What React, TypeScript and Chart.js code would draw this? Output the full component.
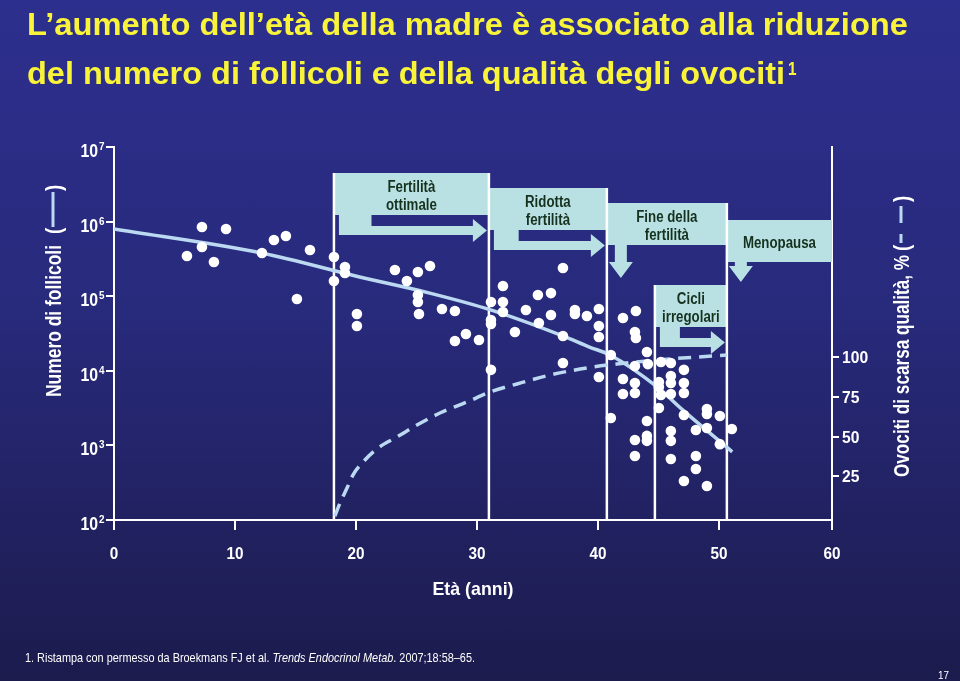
import React, { useEffect, useRef } from 'react';
import { Chart, registerables } from 'chart.js';

Chart.register(...registerables);

// ---------- data ----------
const TITLE_LINE_1 = 'L\u2019aumento dell\u2019et\u00e0 della madre \u00e8 associato alla riduzione';
const TITLE_LINE_2 = 'del numero di follicoli e della qualit\u00e0 degli ovociti';
const TITLE_NOTE = '1';
const FOOTNOTE_A = '1. Ristampa con permesso da Broekmans FJ et al. ';
const FOOTNOTE_B = 'Trends Endocrinol Metab';
const FOOTNOTE_C = '. 2007;18:58\u201365.';
const PAGE_NUMBER = '17';
const X_TITLE = 'Et\u00e0 (anni)';
const Y_TITLE = 'Numero di follicoli';
const Y2_TITLE = 'Ovociti di scarsa qualit\u00e0, %';

// scatter: age (years) and follicle count
const POINT_AGES = [
  6.03, 7.27, 7.27, 8.26, 9.26, 12.23, 13.22, 14.21, 16.2, 15.12,
  18.18, 18.18, 19.09, 19.09, 20.08, 20.08, 23.22, 24.21, 25.12, 26.12,
  25.12, 25.12, 25.21, 27.11, 28.18, 29.09, 28.18, 30.17, 31.16, 31.16,
  31.16, 31.16, 32.15, 32.15, 32.15, 33.14, 34.05, 35.04, 36.12, 36.12,
  35.12, 37.11, 37.11, 37.11, 38.1, 38.1, 39.09, 40.08, 40.08, 40.08,
  40.08, 41.07, 42.07, 43.14, 43.06, 43.14, 44.05, 44.13, 43.06, 45.21,
  46.03, 47.11, 42.07, 43.06, 43.06, 42.07, 45.04, 45.04, 46.03, 46.03,
  47.11, 47.11, 45.21, 46.03, 45.04, 41.07, 44.05, 47.11, 49.01, 49.01,
  50.08, 48.1, 49.01, 51.07, 46.03, 46.03, 44.05, 44.05, 43.06, 50.08,
  43.06, 46.03, 48.1, 48.1, 47.11, 49.01,
];
const POINT_FOLLICLES = [
  3.46e5, 8.47e5, 4.57e5, 2.87e5, 7.96e5, 3.79e5, 5.66e5, 6.41e5, 4.16e5, 9.19e4,
  3.35e5, 1.6e5, 2.46e5, 2.05e5, 5.77e4, 3.99e4, 2.24e5, 1.6e5, 2.11e5, 2.54e5,
  1.04e5, 8.36e4, 5.77e4, 6.73e4, 6.34e4, 3.11e4, 2.51e4, 2.59e4, 8.36e4, 4.8e4,
  4.24e4, 1.03e4, 1.37e5, 8.36e4, 6.14e4, 3.31e4, 6.53e4, 1.04e5, 1.1e5, 5.59e4,
  4.37e4, 2.39e5, 2.93e4, 1.27e4, 6.53e4, 5.77e4, 5.43e4, 6.73e4, 3.99e4, 2.84e4,
  8.26e3, 1.63e4, 5.11e4, 6.34e4, 3.31e4, 2.75e4, 1.79e4, 1.23e4, 1.16e4, 1.31e4,
  1.27e4, 1.03e4, 7.76e3, 6.86e3, 5.04e3, 4.89e3, 7.08e3, 6.07e3, 8.51e3, 6.86e3,
  6.86e3, 5.04e3, 4.74e3, 4.89e3, 3.17e3, 2.33e3, 2.12e3, 2.56e3, 3.08e3, 2.64e3,
  2.48e3, 1.61e3, 1.71e3, 1.66e3, 1.56e3, 1.15e3, 1.34e3, 1.15e3, 1.18e3, 1.04e3,
  721, 658, 721, 483, 334, 286,
];

// fitted follicle curve (solid)
const CURVE_AGES = [0, 12.2, 20.3, 26.1, 31.2, 37.1, 39.3, 41.0, 44.9, 47.0, 51.1];
const CURVE_FOLLICLES = [7.96e5, 3.79e5, 1.81e5, 1.1e5, 6.5e4, 2.93e4, 2.08e4, 1.63e4, 6.07e3, 2.99e3, 820];

// poor-quality oocytes curve (dashed, right axis, %)
const QUALITY_AGES = [18.26, 18.68, 19.26, 19.75, 20.58, 21.82, 23.39, 25.04, 26.94, 29.17, 31.07, 33.31, 36.03, 39.09, 41.57, 44.88, 50.66];
const QUALITY_PCT = [0, 8.2, 17.6, 25.8, 34.0, 42.8, 49.8, 57.3, 64.9, 71.8, 78.1, 83.2, 88.8, 93.3, 95.8, 98.3, 101.4];

// axes
const X_MAX = 59.35;
const X_TICK_VALUES = [0, 10, 20, 30, 40, 50, X_MAX];
const X_TICK_LABELS = ['0', '10', '20', '30', '40', '50', '60'];
const Y_TICK_VALUES = [1e2, 1e3, 1e4, 1e5, 1e6, 1e7];
const Y_TICK_EXPONENTS = ['2', '3', '4', '5', '6', '7'];
const PCT_MIN = -2.5;
const PCT_MAX = 232.5;
const PCT_TICK_VALUES = [25, 50, 75, 100];

// stages
const STAGE_LINE_AGES = [18.18, 30.99, 40.74, 44.71, 50.66];
const CALLOUT_LABELS = [
  ['Fertilit\u00e0', 'ottimale'],
  ['Ridotta', 'fertilit\u00e0'],
  ['Fine della', 'fertilit\u00e0'],
  ['Menopausa'],
  ['Cicli', 'irregolari'],
];
const CALLOUT_FROM = [18.18, 30.99, 40.74, 50.66, 44.71];
const CALLOUT_TO = [30.99, 40.74, 50.66, X_MAX, 50.66];

// ---------- styles / layout ----------
const FONT = "'Liberation Sans', Arial, Helvetica, sans-serif";
const WHITE = '#ffffff';
const YELLOW = '#f9f43a';
const CURVE_COLOR = '#bcd9f2';
const BOX_COLOR = '#b9e1e4';
const BOX_TEXT = '#16321e';
const CALLOUT_LAYOUT = [
  { top: 26, arrow: 'right', shaft: 0 },
  { top: 41, arrow: 'right', shaft: 0 },
  { top: 56, arrow: 'down', shaft: 17 },
  { top: 73, arrow: 'down', shaft: 4 },
  { top: 138, arrow: 'right', shaft: 0 },
];

type Run = { text: string; font: string; dy?: number };

function drawRuns(
  ctx: CanvasRenderingContext2D,
  runs: Run[],
  x: number,
  y: number,
  opts: { color: string; width?: number; scale?: number; align?: 'left' | 'center' | 'right'; rotate?: boolean }
) {
  ctx.save();
  let total = 0;
  const widths = runs.map((r) => {
    ctx.font = r.font;
    const w = ctx.measureText(r.text).width;
    total += w;
    return w;
  });
  const k = opts.width ? opts.width / total : opts.scale ?? 1;
  const W = total * k;
  ctx.translate(x, y);
  if (opts.rotate) ctx.rotate(-Math.PI / 2);
  const start = opts.align === 'center' ? -W / 2 : opts.align === 'right' ? -W : 0;
  ctx.scale(k, 1);
  ctx.fillStyle = opts.color;
  ctx.textBaseline = 'alphabetic';
  ctx.textAlign = 'left';
  let cx = start / k;
  runs.forEach((r, i) => {
    ctx.font = r.font;
    ctx.fillText(r.text, cx, r.dy ?? 0);
    cx += widths[i];
  });
  ctx.restore();
  return W;
}

const decorPlugin = {
  id: 'decor',
  beforeDatasetsDraw(chart: any) {
    const { ctx, chartArea: ca, scales } = chart;
    const xs = scales.x;
    ctx.save();
    // callouts
    CALLOUT_LABELS.forEach((lines, i) => {
      const L = CALLOUT_LAYOUT[i];
      const x0 = xs.getPixelForValue(CALLOUT_FROM[i]);
      const x1 = xs.getPixelForValue(CALLOUT_TO[i]);
      const top = ca.top + L.top;
      const h = 42;
      const bot = top + h;
      ctx.fillStyle = BOX_COLOR;
      ctx.fillRect(x0, top, x1 - x0, h);
      ctx.beginPath();
      if (L.arrow === 'right') {
        const colW = Math.max(20, 0.21 * (x1 - x0));
        const lx = x0 + 5;
        ctx.moveTo(lx, bot);
        ctx.lineTo(lx + colW, bot);
        ctx.lineTo(lx + colW, bot + 11);
        ctx.lineTo(x1 - 16, bot + 11);
        ctx.lineTo(x1 - 16, bot + 4);
        ctx.lineTo(x1 - 2, bot + 15.5);
        ctx.lineTo(x1 - 16, bot + 27);
        ctx.lineTo(x1 - 16, bot + 20);
        ctx.lineTo(lx, bot + 20);
      } else {
        const cx = x0 + 14;
        const se = bot + L.shaft;
        ctx.moveTo(cx - 6, bot);
        ctx.lineTo(cx + 6, bot);
        ctx.lineTo(cx + 6, se);
        ctx.lineTo(cx + 12, se);
        ctx.lineTo(cx, se + 16);
        ctx.lineTo(cx - 12, se);
        ctx.lineTo(cx - 6, se);
      }
      ctx.closePath();
      ctx.fill();
      const mid = (x0 + x1) / 2;
      const bl = lines.length === 1 ? [28] : [19, 37];
      lines.forEach((t, j) => {
        drawRuns(ctx, [{ text: t, font: `bold 16px ${FONT}` }], mid, top + bl[j], {
          color: BOX_TEXT,
          scale: 0.83,
          align: 'center',
        });
      });
    });
    // stage lines
    ctx.strokeStyle = WHITE;
    ctx.lineWidth = 2.5;
    STAGE_LINE_AGES.forEach((a) => {
      const px = xs.getPixelForValue(a);
      let topY = ca.bottom;
      CALLOUT_FROM.forEach((f, i) => {
        if (Math.abs(f - a) < 0.01 || Math.abs(CALLOUT_TO[i] - a) < 0.01) {
          topY = Math.min(topY, ca.top + CALLOUT_LAYOUT[i].top);
        }
      });
      ctx.beginPath();
      ctx.moveTo(px, topY);
      ctx.lineTo(px, ca.bottom);
      ctx.stroke();
    });
    ctx.restore();
  },
  afterDraw(chart: any) {
    const { ctx, chartArea: ca, scales } = chart;
    const xs = scales.x;
    const ys = scales.y;
    const y2 = scales.y2;
    ctx.save();
    // x tick labels
    X_TICK_VALUES.forEach((v, i) => {
      drawRuns(ctx, [{ text: X_TICK_LABELS[i], font: `bold 17px ${FONT}` }], xs.getPixelForValue(v), 559, {
        color: WHITE,
        scale: 0.9,
        align: 'center',
      });
    });
    // left tick labels 10^n
    Y_TICK_VALUES.forEach((v, i) => {
      const py = ys.getPixelForValue(v);
      drawRuns(ctx, [{ text: '10', font: `bold 18px ${FONT}` }], 98, py + 10, { color: WHITE, scale: 0.88, align: 'right' });
      drawRuns(ctx, [{ text: Y_TICK_EXPONENTS[i], font: `bold 11px ${FONT}` }], 99, py + 3, { color: WHITE, scale: 0.9 });
    });
    // right tick labels
    PCT_TICK_VALUES.forEach((v) => {
      drawRuns(ctx, [{ text: String(v), font: `bold 17px ${FONT}` }], 842, y2.getPixelForValue(v) + 6, {
        color: WHITE,
        scale: 0.92,
      });
    });
    // x title
    drawRuns(ctx, [{ text: X_TITLE, font: `bold 19px ${FONT}` }], (ca.left + ca.right) / 2, 595, {
      color: WHITE,
      width: 81,
      align: 'center',
    });
    // left title + solid legend glyph
    drawRuns(ctx, [{ text: Y_TITLE, font: `bold 22px ${FONT}` }], 61, 397, { color: WHITE, width: 152, rotate: true });
    drawRuns(ctx, [{ text: '(', font: `bold 22px ${FONT}` }], 61, 234, { color: WHITE, scale: 0.85, rotate: true });
    drawRuns(ctx, [{ text: ')', font: `bold 22px ${FONT}` }], 61, 191, { color: WHITE, scale: 0.85, rotate: true });
    ctx.strokeStyle = CURVE_COLOR;
    ctx.lineWidth = 3;
    ctx.beginPath();
    ctx.moveTo(53, 227);
    ctx.lineTo(53, 192);
    ctx.stroke();
    // right title + dashed legend glyph
    drawRuns(ctx, [{ text: Y2_TITLE, font: `bold 22px ${FONT}` }], 909, 477, { color: WHITE, width: 222, rotate: true });
    drawRuns(ctx, [{ text: '(', font: `bold 22px ${FONT}` }], 909, 251, { color: WHITE, scale: 0.85, rotate: true });
    drawRuns(ctx, [{ text: ')', font: `bold 22px ${FONT}` }], 909, 202, { color: WHITE, scale: 0.85, rotate: true });
    ctx.beginPath();
    ctx.moveTo(901, 243);
    ctx.lineTo(901, 234);
    ctx.moveTo(901, 223);
    ctx.lineTo(901, 206);
    ctx.stroke();
    // title
    drawRuns(ctx, [{ text: TITLE_LINE_1, font: `bold 31px ${FONT}` }], 27, 35, { color: YELLOW, width: 881 });
    drawRuns(ctx, [{ text: TITLE_LINE_2, font: `bold 31px ${FONT}` }], 27, 84, { color: YELLOW, width: 758 });
    drawRuns(ctx, [{ text: TITLE_NOTE, font: `bold 18px ${FONT}` }], 788, 75, { color: YELLOW, scale: 0.85 });
    // footnote
    drawRuns(
      ctx,
      [
        { text: FOOTNOTE_A, font: `13px ${FONT}` },
        { text: FOOTNOTE_B, font: `italic 13px ${FONT}` },
        { text: FOOTNOTE_C, font: `13px ${FONT}` },
      ],
      25,
      662,
      { color: WHITE, width: 450 }
    );
    drawRuns(ctx, [{ text: PAGE_NUMBER, font: `11px ${FONT}` }], 938, 679, { color: WHITE, scale: 0.9 });
    ctx.restore();
  },
};

export default function App() {
  const ref = useRef<HTMLCanvasElement | null>(null);
  useEffect(() => {
    if (!ref.current) return;
    const axisGrid = (len: number) => ({
      drawOnChartArea: false,
      drawTicks: true,
      tickLength: len,
      color: WHITE,
      lineWidth: 2,
    });
    const chart = new Chart(ref.current, {
      type: 'scatter',
      data: {
        datasets: [
          {
            label: 'Follicoli',
            data: POINT_AGES.map((a, i) => ({ x: a, y: POINT_FOLLICLES[i] })),
            yAxisID: 'y',
            pointRadius: 5.3,
            pointBackgroundColor: WHITE,
            pointBorderWidth: 0,
            showLine: false,
          },
          {
            label: 'Curva follicoli',
            data: CURVE_AGES.map((a, i) => ({ x: a, y: CURVE_FOLLICLES[i] })),
            yAxisID: 'y',
            showLine: true,
            borderColor: CURVE_COLOR,
            borderWidth: 3.5,
            pointRadius: 0,
            cubicInterpolationMode: 'monotone',
          },
          {
            label: 'Ovociti di scarsa qualità',
            data: QUALITY_AGES.map((a, i) => ({ x: a, y: QUALITY_PCT[i] })),
            yAxisID: 'y2',
            showLine: true,
            borderColor: CURVE_COLOR,
            borderWidth: 3.5,
            borderDash: [13, 8],
            pointRadius: 0,
            cubicInterpolationMode: 'monotone',
          },
        ],
      },
      options: {
        animation: false,
        responsive: false,
        events: [],
        layout: { padding: { top: 147, left: 0, right: 0, bottom: 0 } },
        plugins: { legend: { display: false }, tooltip: { enabled: false }, title: { display: false } },
        scales: {
          x: {
            type: 'linear',
            position: 'bottom',
            min: 0,
            max: X_MAX,
            afterBuildTicks: (s: any) => {
              s.ticks = X_TICK_VALUES.map((v) => ({ value: v }));
            },
            afterFit: (s: any) => {
              s.height = 161;
            },
            ticks: { display: false },
            grid: axisGrid(10),
            border: { display: true, color: WHITE, width: 2 },
          },
          y: {
            type: 'logarithmic',
            position: 'left',
            min: 1e2,
            max: 1e7,
            afterBuildTicks: (s: any) => {
              s.ticks = Y_TICK_VALUES.map((v) => ({ value: v }));
            },
            afterFit: (s: any) => {
              s.width = 114;
            },
            ticks: { display: false },
            grid: axisGrid(8),
            border: { display: true, color: WHITE, width: 2 },
          },
          y2: {
            type: 'linear',
            position: 'right',
            min: PCT_MIN,
            max: PCT_MAX,
            afterBuildTicks: (s: any) => {
              s.ticks = PCT_TICK_VALUES.map((v) => ({ value: v }));
            },
            afterFit: (s: any) => {
              s.width = 128;
            },
            ticks: { display: false },
            grid: axisGrid(7),
            border: { display: true, color: WHITE, width: 2 },
          },
        },
      },
      plugins: [decorPlugin],
    } as any);
    return () => chart.destroy();
  }, []);

  return (
    <div
      style={{
        position: 'fixed',
        left: 0,
        top: 0,
        width: 960,
        height: 681,
        background: 'linear-gradient(to bottom, #2d2f8e 0%, #282a7c 45%, #1c1b4d 100%)',
        overflow: 'hidden',
      }}
    >
      <canvas ref={ref} width={960} height={681} style={{ display: 'block', width: 960, height: 681 }} />
    </div>
  );
}
